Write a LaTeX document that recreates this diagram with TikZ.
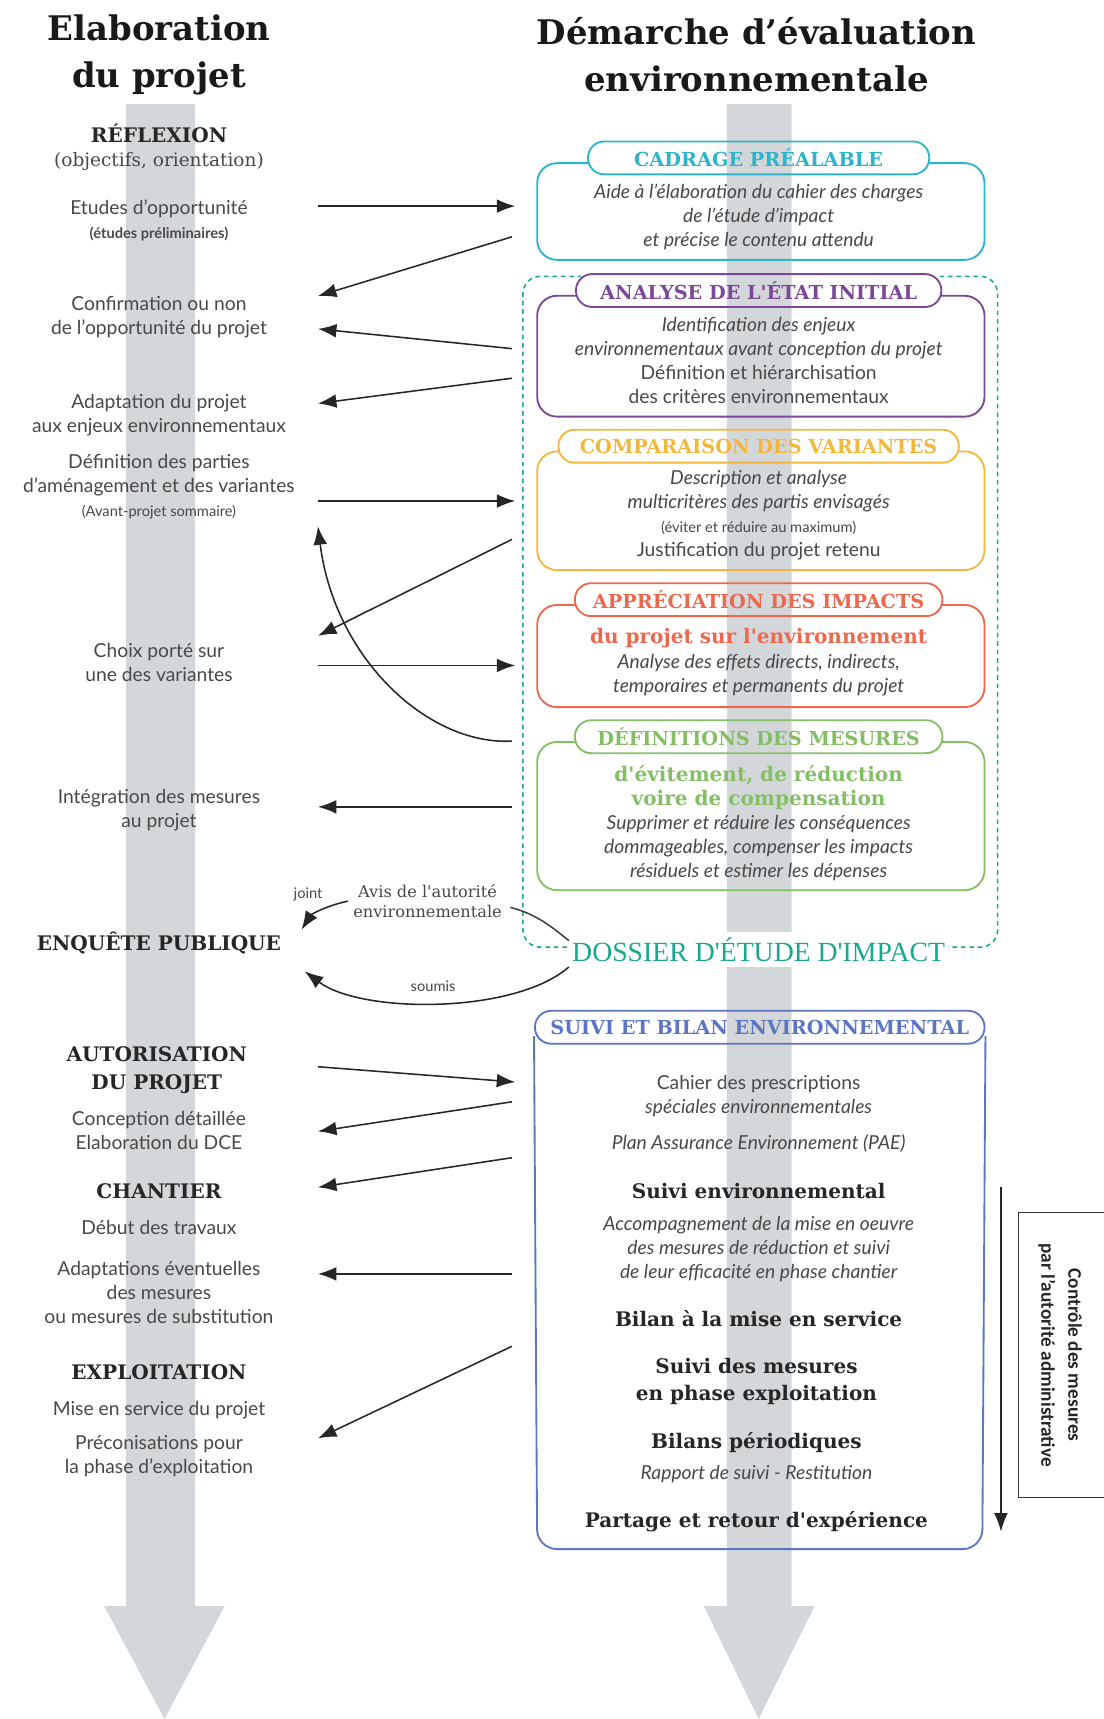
\documentclass[tikz,border=0pt]{standalone}
\usepackage{fontspec}
\setmainfont{Lato}
\newfontfamily\slab{DejaVu Serif}
\newfontfamily\dossierfont{Liberation Serif}
\newfontfamily\calib{Carlito}
\usetikzlibrary{arrows.meta,calc}
\tikzset{>={Latex[length=12pt,width=9pt]}}

\definecolor{bandgray}{RGB}{212,215,218}
\definecolor{txtgray}{RGB}{72,72,72}
\definecolor{cadcol}{RGB}{44,180,204}
\definecolor{anacol}{RGB}{122,72,150}
\definecolor{comcol}{RGB}{244,183,62}
\definecolor{appcol}{RGB}{236,104,78}
\definecolor{defcol}{RGB}{132,190,101}
\definecolor{doscol}{RGB}{25,168,140}
\definecolor{suicol}{RGB}{92,118,196}

% body of a box hanging below its title tab
\newcommand\bodybox[3]{%
  \coordinate (tl) at ([xshift=0.04cm,yshift=-0.12cm]#2.west);
  \coordinate (tr) at ([xshift=-0.04cm,yshift=-0.12cm]#2.east);
  \draw[#1, boxline] (tl) -| (490,#3) -| (898,0 |- tr) -- (tr);}

\begin{document}
\begin{tikzpicture}[x=0.025cm, y=-0.025cm,
    title/.style={align=center, font=\slab\bfseries\fontsize{22}{30.5}\selectfont, text=black!90},
    head/.style={align=center, font=\slab\bfseries\fontsize{13}{17.7}\selectfont, text=black!85},
    slabtxt/.style={align=center, font=\slab\fontsize{10.5}{12.5}\selectfont, text=txtgray},
    boldslab/.style={align=center, font=\slab\bfseries\fontsize{13}{17.5}\selectfont, text=black!85},
    txt/.style={align=center, text=txtgray, font=\fontsize{12.5}{15.6}\selectfont},
    tab/.style={draw=#1, text=#1, line width=1.2pt, rounded corners=0.37cm,
      minimum height=0.75cm, inner xsep=0pt, font=\slab\bfseries\fontsize{12.5}{14}\selectfont},
    boxline/.style={line width=1.2pt, rounded corners=0.45cm},
    arr/.style={-{Latex[length=12pt,width=9pt]}, line width=1pt, black!85},
    link/.style={line width=1pt, black!75}]
  \useasboundingbox (0,0) rectangle (1007,1568);

  % the two grey time arrows
  \fill[bandgray] (115,95) -- (178,95) -- (178,1465) -- (205,1465) -- (150,1568)
    -- (95,1465) -- (115,1465) -- cycle;
  \fill[bandgray] (663,95) -- (722,95) -- (722,1465) -- (743,1465) -- (692,1568)
    -- (642,1465) -- (663,1465) -- cycle;

  \node[title] (elab) at (145,50) {Elaboration\\du projet};
  \node[title] (demarche) at (690,50) {Démarche d’évaluation\\environnementale};

  % dossier d'etude d'impact
  \draw[doscol, line width=1pt, dash pattern=on 3pt off 2.5pt, rounded corners=0.4cm]
    (857,252) -- (910,252) -- (910,864) -- (477,864) -- (477,252) -- (530,252);

  % boxes of the evaluation
  \node[tab=cadcol, minimum width=7.78cm] (cadrage) at (692,144) {CADRAGE PRÉALABLE};
  \bodybox{cadcol}{cadrage}{237}
  \node[tab=anacol, minimum width=8.33cm] (analyse) at (692,265) {ANALYSE DE L'ÉTAT INITIAL};
  \bodybox{anacol}{analyse}{380}
  \node[tab=comcol, minimum width=9.13cm] (compar) at (692,407) {COMPARAISON DES VARIANTES};
  \bodybox{comcol}{compar}{520}
  \node[tab=appcol, minimum width=8.38cm] (apprec) at (692,547) {APPRÉCIATION DES IMPACTS};
  \bodybox{appcol}{apprec}{645}
  \node[tab=defcol, minimum width=8.38cm] (definit) at (692,672) {DÉFINITIONS DES MESURES};
  \bodybox{defcol}{definit}{812}
  \node[tab=suicol, minimum width=10.25cm] (suivi) at (693,937) {SUIVI ET BILAN ENVIRONNEMENTAL};
  \draw[suicol, boxline] ([yshift=-0.2cm]suivi.west) -- (490,1413) -- (896,1413)
    -- ([yshift=-0.2cm]suivi.east);

  \node[fill=white, text=doscol, inner xsep=2pt, font=\dossierfont\fontsize{18}{20}\selectfont]
    (dossier) at (692,866) {DOSSIER D'ÉTUDE D'IMPACT};

  \node[txt, font=\itshape\fontsize{12.5}{15.6}\selectfont] (cadtxt) at (692,198)
    {Aide à l’élaboration du cahier des charges\\de l’étude d’impact\\et précise le contenu attendu};
  \node[txt] (anatxt) at (692,329) {{\itshape Identification des enjeux}\\
    {\itshape environnementaux avant conception du projet}\\
    Définition et hiérarchisation\\des critères environnementaux};
  \node[txt] (comtxt) at (692,470) {{\itshape Description et analyse}\\
    {\itshape multicritères des partis envisagés}\\
    {\fontsize{9.5}{11}\selectfont(éviter et réduire au maximum)}\\Justification du projet retenu};
  \node[txt] (apptxt) at (692,604) {{\slab\bfseries\fontsize{13}{15}\selectfont\color{appcol}du projet sur l'environnement}\\
    {\itshape Analyse des effets directs, indirects,}\\
    {\itshape temporaires et permanents du projet}};
  \node[txt] (deftxt) at (692,751) {{\slab\bfseries\fontsize{13}{15}\selectfont\color{defcol}d'évitement, de réduction}\\
    {\slab\bfseries\fontsize{13}{15}\selectfont\color{defcol}voire de compensation}\\
    {\itshape Supprimer et réduire les conséquences}\\
    {\itshape dommageables, compenser les impacts}\\
    {\itshape résiduels et estimer les dépenses}};

  \node[txt] (cahier) at (692,1000) {Cahier des prescriptions\\{\itshape spéciales environnementales}};
  \node[txt, font=\itshape\fontsize{12.5}{15.6}\selectfont] (pae) at (692,1043) {Plan Assurance Environnement (PAE)};
  \node[boldslab] (suivienv) at (692,1086) {Suivi environnemental};
  \node[txt, font=\itshape\fontsize{12.5}{15.6}\selectfont] (accomp) at (692,1139)
    {Accompagnement de la mise en oeuvre\\des mesures de réduction et suivi\\de leur efficacité en phase chantier};
  \node[boldslab] (bilanmes) at (692,1203) {Bilan à la mise en service};
  \node[boldslab] (suivimes) at (690,1260) {Suivi des mesures\\en phase exploitation};
  \node[boldslab] (bilans) at (690,1316) {Bilans périodiques};
  \node[txt, font=\itshape\fontsize{12.5}{15.6}\selectfont] (rapport) at (690,1345) {Rapport de suivi - Restitution};
  \node[boldslab] (partage) at (690,1388) {Partage et retour d'expérience};

  % steps of the project
  \node[head] (reflexion) at (145,122) {RÉFLEXION};
  \node[slabtxt, font=\slab\fontsize{12}{14}\selectfont] (objectifs) at (145,147) {(objectifs, orientation)};
  \node[txt] (etudes) at (145,201) {Etudes d’opportunité\\{\fontsize{9.5}{11}\selectfont\bfseries(études préliminaires)}};
  \node[txt] (confirm) at (145,289) {Confirmation ou non\\de l’opportunité du projet};
  \node[txt] (adapt) at (145,379) {Adaptation du projet\\aux enjeux environnementaux};
  \node[txt] (defpart) at (145,444) {Définition des parties\\d’aménagement et des variantes\\
    {\fontsize{9.5}{11}\selectfont(Avant-projet sommaire)}};
  \node[txt] (choix) at (145,604) {Choix porté sur\\une des variantes};
  \node[txt] (integr) at (145,739) {Intégration des mesures\\au projet};
  \node[head] (enquete) at (145,860) {ENQUÊTE PUBLIQUE};
  \node[head] (autoris) at (143,976) {AUTORISATION\\DU PROJET};
  \node[txt] (concep) at (145,1031) {Conception détaillée\\Elaboration du DCE};
  \node[head] (chantier) at (145,1087) {CHANTIER};
  \node[txt] (debut) at (145,1120) {Début des travaux};
  \node[txt] (adaptev) at (145,1179) {Adaptations éventuelles\\des mesures\\ou mesures de substitution};
  \node[head] (exploit) at (145,1252) {EXPLOITATION};
  \node[txt] (mise) at (145,1286) {Mise en service du projet};
  \node[txt] (precon) at (145,1328) {Préconisations pour\\la phase d’exploitation};

  \node[slabtxt] (avis) at (390,822) {Avis de l'autorité\\environnementale};
  \node[txt, font=\fontsize{9.5}{11}\selectfont] (joint) at (281,816) {joint};
  \node[txt, font=\fontsize{9.5}{11}\selectfont] (soumis) at (395,900) {soumis};

  % ends of the exchanges
  \path (290,188) coordinate (l1) (470,188) coordinate (r1)
        (467,216) coordinate (r2) (290,270) coordinate (l2)
        (467,318) coordinate (r3) (290,300) coordinate (l3)
        (467,345) coordinate (r4) (290,368) coordinate (l4)
        (290,457) coordinate (l5) (470,457) coordinate (r5)
        (467,492) coordinate (r6) (290,580) coordinate (l6)
        (290,607) coordinate (l7) (470,607) coordinate (r7)
        (467,676) coordinate (r8) (290,480) coordinate (l8)
        (467,736) coordinate (r9) (290,736) coordinate (l9)
        (290,973) coordinate (l10) (470,987) coordinate (r10)
        (467,1005) coordinate (r11) (290,1032) coordinate (l11)
        (467,1056) coordinate (r12) (290,1083) coordinate (l12)
        (467,1162) coordinate (r13) (290,1162) coordinate (l13)
        (467,1228) coordinate (r14) (290,1312) coordinate (l14)
        (275,848) coordinate (ej) (278,886) coordinate (es)
        (913,1083) coordinate (ctop) (913,1397) coordinate (cbot);

  \draw[arr] (l1) -- (r1);
  \draw[arr] (r2) -- (l2);
  \draw[arr] (r3) -- (l3);
  \draw[arr] (r4) -- (l4);
  \draw[arr] (l5) -- (r5);
  \draw[arr] (r6) -- (l6);
  \draw[arr] (l7) -- (r7);
  \draw[arr] (r8) .. controls (390,680) and (305,600) .. (l8);
  \draw[arr] (r9) -- (l9);
  \draw[arr] (l10) -- (r10);
  \draw[arr] (r11) -- (l11);
  \draw[arr] (r12) -- (l12);
  \draw[arr] (r13) -- (l13);
  \draw[arr] (r14) -- (l14);

  \draw[link] ([xshift=2pt,yshift=-4pt]avis.east) .. controls (490,834) and (504,846) .. ([yshift=0.2cm]dossier.west);
  \draw[arr] (avis.west) .. controls (298,826) and (284,834) .. (ej);
  \draw[arr] ([yshift=-0.4cm]dossier.west) .. controls (470,925) and (330,925) .. (es);

  % control by the authority
  \draw[arr] (ctop) -- (cbot);
  \draw[line width=1pt, black!80] (1007,1106) -- (929,1106) -- (929,1366) -- (1007,1366);
  \node[rotate=-90, align=center, font=\calib\bfseries\fontsize{12.5}{17.5}\selectfont, text=black!85]
    (controle) at (967,1236) {Contrôle des mesures\\par l’autorité administrative};
\end{tikzpicture}
\end{document}
